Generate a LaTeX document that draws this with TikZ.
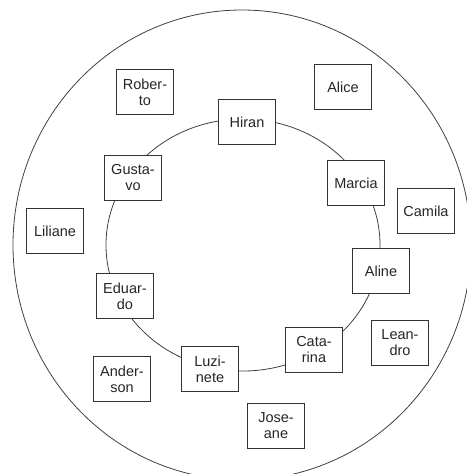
\documentclass[tikz,border=0pt]{standalone}
\usepackage{fontspec}
\setmainfont{Liberation Sans}
\usepackage{tikz}
\usetikzlibrary{positioning}

\begin{document}
\begin{tikzpicture}[x=1pt, y=-1pt,
    box/.style={draw=black!80, line width=0.8pt, fill=white, minimum width=57pt,
      minimum height=45pt, inner sep=0pt, align=center,
      font=\fontsize{14.5}{16}\selectfont, text=black!85},
    ring/.style={draw=black!75, line width=0.8pt}]
    \useasboundingbox (0,0) rectangle (466,474);
    % Outer ring
    \draw [ring] (242,245) ellipse [x radius=229pt, y radius=235pt];
    % Inner ring
    \draw [ring] (243,245) ellipse [x radius=137pt, y radius=126pt];
    % Names on the inner ring
    \node [box] (hiran)    at (247,122) {Hiran};
    \node [box] (marcia)   at (356,183) {Marcia};
    \node [box] (aline)    at (381,271) {Aline};
    \node [box] (catarina) at (314,350) {Cata-\\rina};
    \node [box] (luzinete) at (210,369) {Luzi-\\nete};
    \node [box] (eduardo)  at (125,296) {Eduar-\\do};
    \node [box] (gustavo)  at (133,178) {Gusta-\\vo};
    % Names between the rings
    \node [box] (roberto)  at (145,92)  {Rober-\\to};
    \node [box] (alice)    at (343,87)  {Alice};
    \node [box] (camila)   at (426,211) {Camila};
    \node [box] (leandro)  at (400,343) {Lean-\\dro};
    \node [box] (joseane)  at (276,426) {Jose-\\ane};
    \node [box] (anderson) at (122,379) {Ander-\\son};
    \node [box] (liliane)  at (55,231)  {Liliane};
\end{tikzpicture}
\end{document}
